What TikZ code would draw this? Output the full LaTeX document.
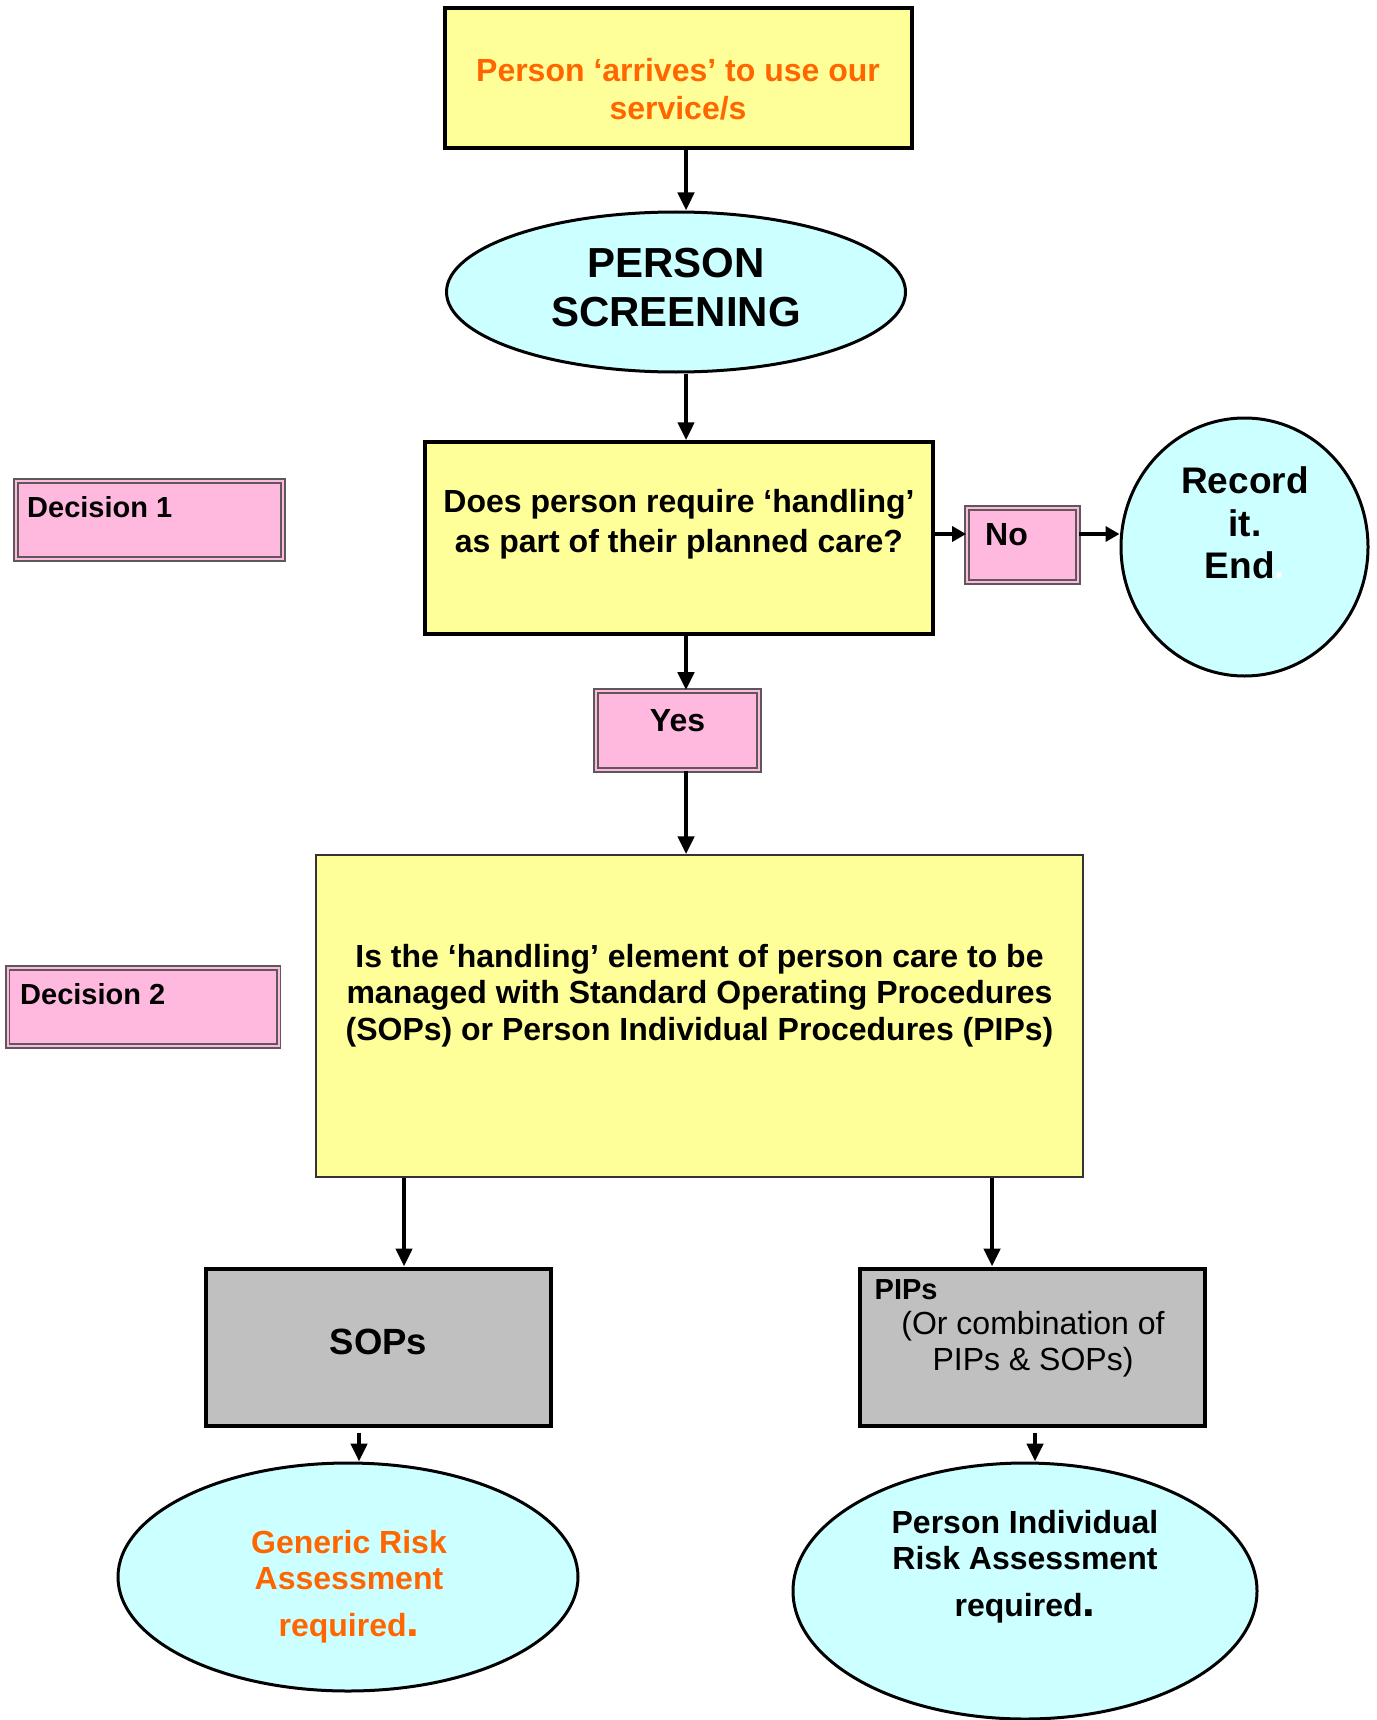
\documentclass[tikz,border=0pt]{standalone}
\usepackage{fontspec}
\setmainfont{Liberation Sans}
\usepackage{xcolor}
\definecolor{lemon}{HTML}{FFFF99}
\definecolor{icecyan}{HTML}{CCFFFF}
\definecolor{candypink}{HTML}{FFB9DE}
\definecolor{silver}{HTML}{C0C0C0}
\definecolor{tangerine}{HTML}{FF6600}
\definecolor{tagframe}{HTML}{5E585B}
\usetikzlibrary{shapes.geometric,arrows.meta}

\begin{document}
\begin{tikzpicture}[x=1pt, y=-1pt,
  box/.style={draw, line width=3.5pt, fill=lemon, inner sep=0pt},
  oval/.style={ellipse, draw, line width=3pt, fill=icecyan, inner sep=0pt},
  tag/.style={draw=tagframe, double=candypink, double distance=2pt, line width=1.9pt, fill=candypink, inner sep=0pt},
  greybox/.style={draw, line width=4pt, fill=silver, inner sep=0pt},
  txt/.style={font=\bfseries\fontsize{32}{38}\selectfont, align=center, inner sep=0pt},
  tagtxt/.style={font=\bfseries\fontsize{29}{34}\selectfont, anchor=west, inner sep=0pt},
  arr/.style={line width=4.5pt, -{Triangle[length=18pt,width=16pt]}},
  arrs/.style={line width=4.5pt, -{Triangle[length=14pt,width=15pt]}}]
  % Background
  \fill [white] (0,0) rectangle (1376,1720);
  \useasboundingbox (0,0) rectangle (1376,1720);

  % Start
  \node[box, minimum width=467pt, minimum height=140pt] (arrive) at (678.5,78) {};
  \node[txt, text=tangerine] (arrivetxt) at (678,89) {Person ‘arrives’ to use our\\service/s};

  \node[oval, minimum width=459pt, minimum height=160pt] (screen) at (676,292) {};
  \node[txt, font=\bfseries\fontsize{42}{49}\selectfont] (screentxt) at (676,287.5) {PERSON\\SCREENING};

  % Decision 1
  \node[tag, minimum width=267pt, minimum height=78pt] (dec1) at (149.5,520) {};
  \node[tagtxt] (dec1txt) at (27,507) {Decision 1};

  \node[box, minimum width=508pt, minimum height=192pt] (q1) at (679,538) {};
  \node[txt, font=\bfseries\fontsize{32}{40}\selectfont] (q1txt) at (679,524) {Does person require ‘handling’\\as part of their planned care?};

  \node[tag, minimum width=111pt, minimum height=74pt] (no) at (1022.5,545) {};
  \node[tagtxt, font=\bfseries\fontsize{32}{38}\selectfont] (notxt) at (985,535) {No};

  \node[oval, minimum width=247pt, minimum height=258pt] (rec) at (1244.5,547) {};
  \node[txt, font=\bfseries\fontsize{37}{42.5}\selectfont] (rectxt) at (1245,523) {Record\\it.\\End\textcolor{white}{.}};

  \node[tag, minimum width=163pt, minimum height=79pt] (yes) at (677.5,730.5) {};
  \node[txt] (yestxt) at (677.5,721) {Yes};

  % Decision 2
  \node[tag, minimum width=271pt, minimum height=78pt] (dec2) at (143,1007) {};
  \node[tagtxt] (dec2txt) at (20,994) {Decision 2};

  \node[draw=black!80, line width=1.5pt, fill=lemon, minimum width=767pt, minimum height=322pt] (big) at (699.5,1016) {};
  \node[txt, font=\bfseries\fontsize{32}{36.5}\selectfont] (bigtxt) at (699.5,995.5) {Is the ‘handling’ element of person care to be\\managed with Standard Operating Procedures\\(SOPs) or Person Individual Procedures (PIPs)};

  % Outcomes
  \node[greybox, minimum width=345pt, minimum height=157pt] (sops) at (378.5,1347) {};
  \node[txt, font=\bfseries\fontsize{36.5}{40}\selectfont] (sopstxt) at (378.5,1341.5) {SOPs};
  \node[greybox, minimum width=345pt, minimum height=157pt] (pips) at (1032.5,1347) {};
  \node[tagtxt] (pipshead) at (874.5,1290) {PIPs};
  \node[txt, font=\fontsize{32}{36.5}\selectfont] (pipstxt) at (1033,1344) {(Or combination of\\PIPs \& SOPs)};

  \node[oval, minimum width=460pt, minimum height=228pt] (gen) at (348,1577) {};
  \node[txt, text=tangerine, font=\bfseries\fontsize{32}{36}\selectfont] (gentxt) at (349,1586.5) {Generic Risk\\Assessment\\[11pt]required{\fontsize{46}{46}\selectfont.}};

  \node[oval, minimum width=464pt, minimum height=256pt] (pia) at (1025,1591) {};
  \node[txt, font=\bfseries\fontsize{32}{36}\selectfont] (piatxt) at (1025,1566.5) {Person Individual\\Risk Assessment\\[11pt]required{\fontsize{46}{46}\selectfont.}};

  % Arrows
  \coordinate (spine) at (686,0);
  \coordinate (noline) at (0,534);
  \coordinate (lefta) at (404,0);
  \coordinate (righta) at (992,0);
  \coordinate (leftb) at (359,0);
  \coordinate (rightb) at (1035,0);
  \draw[arr] (arrive.south -| spine) -- (screen.north -| spine);
  \draw[arr] (screen.south -| spine) -- (q1.north -| spine);
  \draw[arr] (q1.south -| spine) -- (yes.north -| spine);
  \draw[arr] (yes.south -| spine) -- (big.north -| spine);
  \draw[arrs] (q1.east |- noline) -- (no.west |- noline);
  \draw[arrs] (no.east |- noline) -- (rec.west |- noline);
  \draw[arr] (big.south -| lefta) -- (sops.north -| lefta);
  \draw[arr] (big.south -| righta) -- (pips.north -| righta);
  \draw[arr, shorten <=5pt] (sops.south -| leftb) -- (gen.north -| leftb);
  \draw[arr, shorten <=5pt] (pips.south -| rightb) -- (pia.north -| rightb);
\end{tikzpicture}
\end{document}
